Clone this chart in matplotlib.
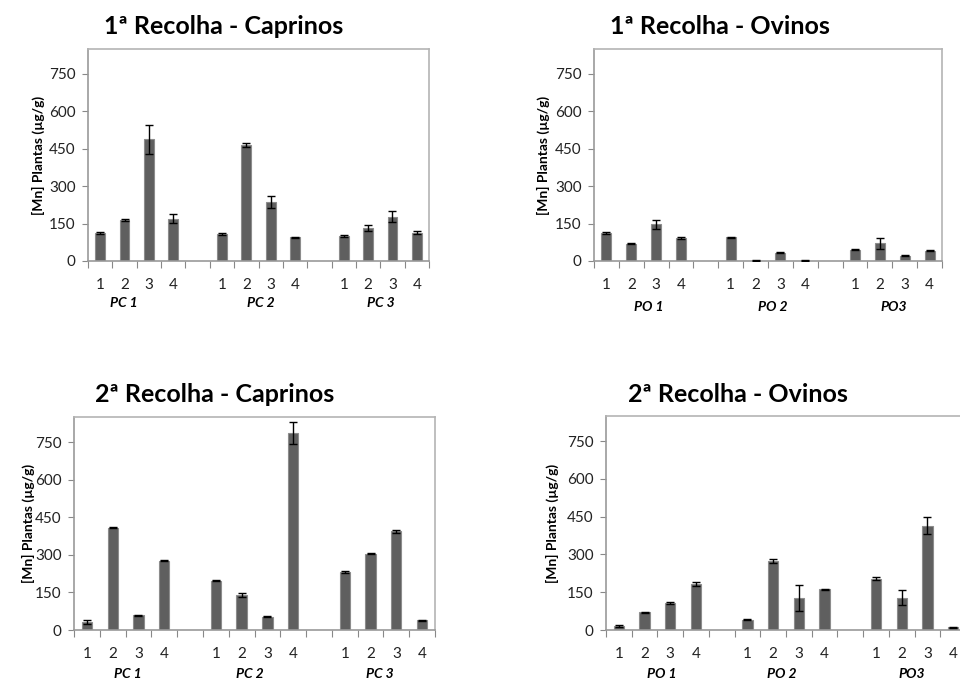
import matplotlib
matplotlib.use("Agg")
import matplotlib.pyplot as plt
import numpy as np

plt.rcParams['font.family'] = ['Lato', 'DejaVu Sans']

# Category labels along each x axis (blank slots separate the sites)
cat_labels = ["1", "2", "3", "4", "", "1", "2", "3", "4", "", "1", "2", "3", "4"]
y_ticks = [0, 150, 300, 450, 600, 750]

# 1ª Recolha - Caprinos
cap1_mean = [113, 164, 489, 170, np.nan, 109, 464, 236, 95, np.nan, 101, 132, 178, 113]
cap1_err = [4, 3, 58, 18, 0, 3, 8, 24, 3, 0, 3, 12, 22, 6]
# 1ª Recolha - Ovinos
ovi1_mean = [113, 69, 147, 93, np.nan, 95, 2, 34, 2, np.nan, 46, 72, 21, 42]
ovi1_err = [3, 2, 19, 3, 0, 3, 1, 2, 1, 0, 3, 22, 2, 2]
# 2ª Recolha - Caprinos
cap2_mean = [32, 408, 59, 277, np.nan, 197, 139, 52, 788, np.nan, 231, 305, 394, 38]
cap2_err = [8, 2, 2, 3, 0, 3, 8, 2, 44, 0, 3, 2, 6, 2]
# 2ª Recolha - Ovinos
ovi2_mean = [16, 71, 107, 183, np.nan, 41, 274, 128, 161, np.nan, 204, 128, 415, 11]
ovi2_err = [3, 2, 3, 7, 0, 2, 8, 52, 2, 0, 6, 30, 35, 2]

titles = ["1ª Recolha - Caprinos", "1ª Recolha - Ovinos",
          "2ª Recolha - Caprinos", "2ª Recolha - Ovinos"]
groups_cap = ["PC 1", "PC 2", "PC 3"]
groups_ovi = ["PO 1", "PO 2", "PO3"]
y_label = "[Mn] Plantas (µg/g)"

W, H = 960, 681
fig = plt.figure(figsize=(W / 100, H / 100), dpi=100)

BAR = "#5f5f5f"
EDGE = "#8c8c8c"
FRAME = "#b4b4b4"

# panel layout in pixels: left, right, top, bottom of the plot area
panels = [
    dict(box=(88, 429, 49, 261), mean=cap1_mean, err=cap1_err, title=titles[0],
         tpos=(224, 27), ylab_x=38, cat_y=282, grp=groups_cap,
         grp_x=[124, 261, 381], grp_y=303),
    dict(box=(594, 942, 49, 261), mean=ovi1_mean, err=ovi1_err, title=titles[1],
         tpos=(720, 27), ylab_x=543, cat_y=282, grp=groups_ovi,
         grp_x=[649, 773, 894], grp_y=307),
    dict(box=(74, 435, 417, 630), mean=cap2_mean, err=cap2_err, title=titles[2],
         tpos=(215, 394), ylab_x=28, cat_y=652, grp=groups_cap,
         grp_x=[128, 250, 380], grp_y=674),
    dict(box=(606, 966, 416, 630), mean=ovi2_mean, err=ovi2_err, title=titles[3],
         tpos=(738, 394), ylab_x=552, cat_y=652, grp=groups_ovi,
         grp_x=[662, 782, 912], grp_y=674),
]

for p in panels:
    l, r, t, b = p["box"]
    ax = fig.add_axes([l / W, 1 - b / H, (r - l) / W, (b - t) / H])
    x = np.arange(len(cat_labels))
    mean = np.array(p["mean"], dtype=float)
    err = np.array(p["err"], dtype=float)
    ax.bar(x, mean, width=0.4, color=BAR, edgecolor=EDGE, linewidth=0.8, zorder=2)
    ok = ~np.isnan(mean)
    ax.errorbar(x[ok], mean[ok], yerr=err[ok], fmt="none", ecolor="black",
                elinewidth=1.0, capsize=3, capthick=1.0, zorder=3)
    ax.set_xlim(-0.5, len(cat_labels) - 0.5)
    ax.set_ylim(0, 850)
    ax.set_yticks(y_ticks)
    ax.tick_params(axis="y", labelsize=11, length=4, width=0.8, color="#888888",
                   labelcolor="#222222", pad=5)
    # tick marks on category boundaries, labels at category centres
    ax.set_xticks(np.arange(-0.5, len(cat_labels) + 0.5, 1.0))
    ax.set_xticklabels([])
    ax.set_xticks(x, minor=True)
    ax.set_xticklabels(cat_labels, minor=True)
    ax.tick_params(axis="x", which="major", length=5, width=0.8, color="#888888")
    ax.tick_params(axis="x", which="minor", length=0, labelsize=11,
                   labelcolor="#222222", pad=12)
    for s in ax.spines.values():
        s.set_color(FRAME)
        s.set_linewidth(1.2)
    ax.spines["left"].set_color("#999999")
    ax.spines["bottom"].set_color("#999999")

    fig.text(p["tpos"][0] / W, 1 - p["tpos"][1] / H, p["title"], ha="center",
             va="center", fontsize=18, fontweight="bold", color="black")
    fig.text(p["ylab_x"] / W, 1 - ((t + b) / 2) / H, y_label, rotation=90,
             ha="center", va="center", fontsize=10, fontweight="bold", color="black")
    for gx, g in zip(p["grp_x"], p["grp"]):
        fig.text(gx / W, 1 - p["grp_y"] / H, g, ha="center", va="center",
                 fontsize=10, fontweight="bold", fontstyle="italic", color="black")

fig.savefig("out.png", dpi=100)
